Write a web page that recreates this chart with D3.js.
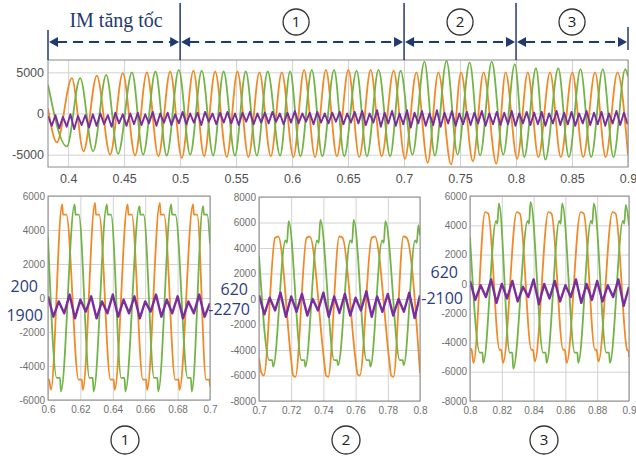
<!DOCTYPE html>
<html>
<head>
<meta charset="utf-8">
<script src="https://cdn.jsdelivr.net/npm/d3@7"></script>
<style>
  body { margin: 0; background: #fff; }
  svg { display: block; }
</style>
</head>
<body>
<svg width="636" height="457"></svg>
<script>
// ---------- data ----------
const stageBounds = [0.382, 0.5, 0.7, 0.8, 0.9];
const stageLabels = ["IM tăng tốc", "1", "2", "3"];
const zoomLabels = ["1", "2", "3"];
const levelLabels = [["200", "1900"], ["620", "-2270"], ["620", "-2100"]];

const topXTicks = [0.4, 0.45, 0.5, 0.55, 0.6, 0.65, 0.7, 0.75, 0.8, 0.85, 0.9];
const topYTicks = [-5000, 0, 5000];
const zoomXTicks = [
  [0.6, 0.62, 0.64, 0.66, 0.68, 0.7],
  [0.7, 0.72, 0.74, 0.76, 0.78, 0.8],
  [0.8, 0.82, 0.84, 0.86, 0.88, 0.9]
];
const zoomYTicks = [
  [-6000, -4000, -2000, 0, 2000, 4000, 6000],
  [-8000, -6000, -4000, -2000, 0, 2000, 4000, 6000, 8000],
  [-8000, -6000, -4000, -2000, 0, 2000, 4000, 6000]
];
const topDomain = { x: [0.382, 0.9], y: [-6500, 6500] };
const zoomDomains = [
  { x: [0.6, 0.7], y: [-6000, 6000] },
  { x: [0.7, 0.8], y: [-8000, 8000] },
  { x: [0.8, 0.9], y: [-8000, 6000] }
];

// phase currents, turning points [time s, value]
const orangeTop = [
  [0.382, 600], [0.3899, -3500], [0.4033, 4300], [0.4137, -4600], [0.4256, 4600], [0.4375, -5000],
  [0.4488, 4900], [0.4598, -5100], [0.4703, 5000], [0.4806, -5200], [0.4911, 5100], [0.5015, -5400],
  [0.5119, 5200], [0.5214, -5200], [0.5313, 5100], [0.5417, -5300], [0.5512, 5100], [0.561, -5300],
  [0.5708, 5000], [0.581, -5200], [0.5908, 5000], [0.6012, -5300], [0.6107, 5300], [0.6205, -5300],
  [0.6302, 5300], [0.640, -5200], [0.6503, 5300], [0.660, -5300], [0.6702, 5300], [0.680, -5200],
  [0.6907, 5200], [0.7008, -5500], [0.711, 5000], [0.7211, -6000], [0.7306, 5000], [0.742, -6200],
  [0.7509, 5000], [0.7615, -5800], [0.771, 5000], [0.7824, -6100], [0.7907, 5000], [0.801, -5500],
  [0.8105, 5000], [0.820, -5300], [0.8304, 5000], [0.840, -5300], [0.8503, 5000], [0.860, -5300],
  [0.8706, 5000], [0.880, -5300], [0.8906, 5000], [0.900, -5000]
];
const greenTop = [
  [0.382, 3500], [0.3988, -4000], [0.4107, 4300], [0.4223, -4600], [0.434, 4700], [0.4446, -4900],
  [0.457, 5000], [0.467, -5000], [0.478, 5100], [0.488, -5100], [0.4988, 5300], [0.509, -5000],
  [0.5193, 5200], [0.5295, -5100], [0.5388, 5100], [0.549, -5100], [0.5586, 5100], [0.5685, -5100],
  [0.5782, 5100], [0.5893, -5100], [0.5982, 5100], [0.6075, -5200], [0.6176, 5300], [0.627, -5200],
  [0.6375, 5300], [0.6466, -5200], [0.6576, 5200], [0.6669, -5200], [0.6772, 5300], [0.6876, -5200],
  [0.6969, 5200], [0.7075, -5000], [0.7182, 6300], [0.7275, -5100], [0.7379, 6400], [0.7478, -5000],
  [0.7586, 6200], [0.7679, -5100], [0.7783, 6300], [0.7886, -5000], [0.7989, 6000], [0.8074, -5300],
  [0.8178, 5500], [0.8262, -5600], [0.8377, 5500], [0.8472, -5300], [0.8576, 5400], [0.8671, -5300],
  [0.8775, 5400], [0.887, -5300], [0.8975, 5400], [0.9, 4500]
];
// third current (ripple), sampled every half ripple period
const purpleTopStart = 0.382;
const purpleTopStep = 0.00334;
const purpleTop = [
  -300, -1500, -200, -1800, -400, -1600, -100, -1900, -300, -1400, -200, -1700,
  -100, -1500, 0, -1300, -200, -1600, 100, -1200, -100, -1500, 0, -1300,
  100, -1400, -100, -1200, 200, -1500, 0, -1100, 100, -1400, -100, -1200,
  200, -1300, 0, -1100, 100, -1400, 200, -1000, 0, -1300, 100, -1100,
  200, -1200, 0, -1400, 100, -1000, 200, -1300, 0, -1100, 100, -1200,
  200, -1000, 0, -1300, 100, -1100, 300, -1200, 0, -1000, 100, -1300,
  200, -1100, 0, -1200, 100, -1000, 200, -1300, 0, -1100, 200, -1200,
  300, -1400, 0, -1100, 400, -1600, 100, -1200, 300, -1500, 0, -1300,
  400, -1700, 100, -1200, 300, -1500, 0, -1400, 400, -1600, 100, -1200,
  300, -1500, 0, -1300, 200, -1400, 100, -1200, 300, -1500, 0, -1300,
  200, -1400, 100, -1300, 300, -1500, 0, -1200, 200, -1400, 100, -1300,
  200, -1500, 0, -1200, 300, -1400, 100, -1300, 200, -1500, 0, -1200,
  300, -1400, 100, -1300, 200, -1500, 0, -1200, 300, -1400, 100, -1300
];

// zoom windows: each peak / trough has its spike and flat shoulder
const orangeZoom = [
  [
    [0.6000, -4800], [0.6006, -4800], [0.6018, -5400],
    [0.6087, 5500], [0.6093, 4900], [0.6113, 4900],
    [0.6189, -4800], [0.6209, -4800], [0.6215, -5400],
    [0.6290, 5600], [0.6296, 4900], [0.6316, 4900],
    [0.6386, -4800], [0.6406, -4800], [0.6412, -5400],
    [0.6491, 5500], [0.6497, 4900], [0.6517, 4900],
    [0.6586, -4800], [0.6606, -4800], [0.6612, -5400],
    [0.6690, 5600], [0.6696, 4900], [0.6716, 4900],
    [0.6786, -4800], [0.6806, -4800], [0.6812, -5400],
    [0.6895, 5500], [0.6901, 4900], [0.6921, 4900],
    [0.6976, -4800], [0.6996, -4800], [0.7000, -5200]
  ],
  [
    [0.7000, -4600], [0.7015, -5800], [0.7030, -6000],
    [0.7100, 4800], [0.7120, 4900],
    [0.7200, -4800], [0.7212, -6000], [0.7226, -6100],
    [0.7296, 4800], [0.7316, 4900],
    [0.7404, -4800], [0.7416, -6000], [0.7430, -6100],
    [0.7499, 4900], [0.7519, 4800],
    [0.7600, -4800], [0.7612, -5900], [0.7626, -6000],
    [0.7700, 4800], [0.7720, 4900],
    [0.7809, -4800], [0.7821, -6000], [0.7835, -6100],
    [0.7897, 4900], [0.7917, 4800],
    [0.8000, -5800]
  ],
  [
    [0.8000, -4400], [0.8010, -4500], [0.8022, -5400],
    [0.8095, 4900], [0.8115, 4800],
    [0.8186, -4500], [0.8196, -4500], [0.8208, -5400],
    [0.8294, 4900], [0.8314, 4800],
    [0.8386, -4500], [0.8396, -4500], [0.8408, -5300],
    [0.8493, 4900], [0.8513, 4800],
    [0.8586, -4500], [0.8596, -4500], [0.8608, -5400],
    [0.8696, 4900], [0.8716, 4800],
    [0.8786, -4500], [0.8796, -4500], [0.8808, -5300],
    [0.8896, 4900], [0.8916, 4800],
    [0.8988, -4500], [0.8998, -4600], [0.9000, -5000]
  ]
];
const greenZoom = [
  [
    [0.6000, 3600],
    [0.6054, -4700], [0.6074, -4700], [0.6080, -5500],
    [0.6164, 5500], [0.6170, 4900], [0.6190, 4900],
    [0.6256, -4700], [0.6276, -4700], [0.6282, -5500],
    [0.6363, 5500], [0.6369, 4900], [0.6389, 4900],
    [0.6452, -4700], [0.6472, -4700], [0.6478, -5500],
    [0.6564, 5400], [0.6570, 4900], [0.6590, 4900],
    [0.6655, -4700], [0.6675, -4700], [0.6681, -5500],
    [0.6760, 5500], [0.6766, 4900], [0.6786, 4900],
    [0.6862, -4700], [0.6882, -4700], [0.6888, -5500],
    [0.6957, 5400], [0.6963, 4900], [0.6983, 4900],
    [0.7000, 3200]
  ],
  [
    [0.7000, 3400],
    [0.7064, -4800], [0.7082, -4800], [0.7088, -5300],
    [0.7164, 4600], [0.7174, 4400], [0.7184, 6100],
    [0.7264, -4800], [0.7282, -4800], [0.7288, -5300],
    [0.7361, 4600], [0.7371, 4400], [0.7381, 6200],
    [0.7467, -4800], [0.7485, -4800], [0.7491, -5200],
    [0.7568, 4600], [0.7578, 4400], [0.7588, 6200],
    [0.7668, -4800], [0.7686, -4800], [0.7692, -5300],
    [0.7765, 4600], [0.7775, 4400], [0.7785, 6100],
    [0.7875, -4800], [0.7893, -4800], [0.7899, -5200],
    [0.7970, 4600], [0.7980, 4400], [0.7990, 5800],
    [0.8000, 5000]
  ],
  [
    [0.8000, 3200],
    [0.8062, -4700], [0.8078, -4700], [0.8084, -5400],
    [0.8164, 4300], [0.8172, 4100], [0.8182, 5500],
    [0.8250, -4700], [0.8266, -4700], [0.8272, -5800],
    [0.8363, 4300], [0.8371, 4100], [0.8381, 5600],
    [0.8460, -4700], [0.8476, -4700], [0.8482, -5400],
    [0.8562, 4300], [0.8570, 4100], [0.8580, 5500],
    [0.8659, -4700], [0.8675, -4700], [0.8681, -5400],
    [0.8761, 4300], [0.8769, 4100], [0.8779, 5500],
    [0.8858, -4700], [0.8874, -4700], [0.8880, -5400],
    [0.8962, 4300], [0.8970, 4100], [0.8980, 5400],
    [0.9000, 4000]
  ]
];
const purpleZoomStep = 0.1 / 30;
const purpleZoom = [
  [100, -1100, -200, -900, 200, -1200, -100, -800, 100, -1200, -200, -900, 200, -1100, -100, -900,
   100, -1200, -200, -800, 200, -1100, -100, -900, 100, -1200, -200, -900, 200, -1100, -300],
  [300, -1200, 100, -900, 500, -1400, 200, -1000, 400, -1300, 0, -900, 500, -1400, 200, -1100,
   400, -1300, 100, -900, 600, -1400, 200, -1000, 400, -1300, 0, -1000, 500, -1500, 300],
  [200, -1100, -100, -900, 300, -1300, 0, -1000, 200, -1200, -200, -900, 300, -1400, 0, -1000,
   200, -1200, -100, -900, 300, -1300, 0, -1100, 200, -1200, -100, -900, 300, -1500, -200]
];

// ---------- layout / style ----------
const colors = {
  orange: "#f08a26", green: "#73b446", purple: "#7a2d9c",
  navy: "#1f3a70", grid: "#d2d2d2", frame: "#8a8a8a", blue: "#2b3d7b"
};
const layout = {
  top: { x: 48, y: 60, w: 580, h: 107, font: 12.5, labelColor: "#505050", padX: 7, padY: 4 },
  zooms: [
    { x: 48, y: 196, w: 162, h: 204, circleX: 125 },
    { x: 259, y: 197, w: 161, h: 204, circleX: 346 },
    { x: 470, y: 196, w: 159, h: 205, circleX: 544 }
  ],
  zoomFont: 10,
  circleY: 440,
  arrowY: 42,
  levelFont: 16,
  levelPos: [
    [[38, 292], [43, 321]],
    [[248, 295], [250, 315]],
    [[458, 278], [463, 304]]
  ]
};

const svg = d3.select("svg");
let clipId = 0;

const drawPanel = (box, domain, xTicks, yTicks, series, opts) => {
  const g = svg.append("g");
  const x = d3.scaleLinear().domain(domain.x).range([box.x, box.x + box.w]);
  const y = d3.scaleLinear().domain(domain.y).range([box.y + box.h, box.y]);

  // grid
  g.append("g")
    .attr("transform", `translate(0,${box.y + box.h})`)
    .call(d3.axisBottom(x).tickValues(xTicks).tickSize(-box.h).tickFormat(""))
    .call((s) => s.select(".domain").remove())
    .call((s) => s.selectAll("line").attr("stroke", colors.grid));
  g.append("g")
    .attr("transform", `translate(${box.x},0)`)
    .call(d3.axisLeft(y).tickValues(yTicks).tickSize(-box.w).tickFormat(""))
    .call((s) => s.select(".domain").remove())
    .call((s) => s.selectAll("line").attr("stroke", colors.grid));

  // traces
  const id = "clip" + clipId++;
  g.append("clipPath").attr("id", id)
    .append("rect").attr("x", box.x).attr("y", box.y).attr("width", box.w).attr("height", box.h);
  const traces = g.append("g").attr("clip-path", `url(#${id})`);
  series.forEach((s) => {
    const line = d3.line().x((d) => x(d[0])).y((d) => y(d[1]))
      .curve(s.sharp ? d3.curveLinear : d3.curveMonotoneX);
    traces.append("path")
      .datum(s.data)
      .attr("fill", "none")
      .attr("stroke", s.color)
      .attr("stroke-width", s.width)
      .attr("stroke-linejoin", "round")
      .attr("d", line);
  });

  // frame
  g.append("rect")
    .attr("x", box.x).attr("y", box.y).attr("width", box.w).attr("height", box.h)
    .attr("fill", "none").attr("stroke", colors.frame).attr("stroke-width", 1);

  // tick labels
  const styleText = (s) => {
    s.select(".domain").remove();
    s.selectAll("text")
      .attr("fill", opts.labelColor)
      .style("font-family", "'Liberation Sans', Arial, sans-serif")
      .style("font-size", opts.font + "px");
  };
  g.append("g")
    .attr("transform", `translate(0,${box.y + box.h})`)
    .call(d3.axisBottom(x).tickValues(xTicks).tickSize(0).tickPadding(opts.padX).tickFormat((d) => String(d)))
    .call(styleText);
  g.append("g")
    .attr("transform", `translate(${box.x},0)`)
    .call(d3.axisLeft(y).tickValues(yTicks).tickSize(0).tickPadding(opts.padY).tickFormat((d) => String(d)))
    .call(styleText);

  return { x, y };
};

const circled = (cx, cy, label, r) => {
  svg.append("circle").attr("cx", cx).attr("cy", cy).attr("r", r)
    .attr("fill", "#fff").attr("stroke", "#333").attr("stroke-width", 1.3);
  svg.append("text").attr("x", cx).attr("y", cy).attr("dy", "0.36em")
    .attr("text-anchor", "middle")
    .style("font-family", "'Open Sans', sans-serif").style("font-size", "15px")
    .attr("fill", "#222").text(label);
};

// ---------- top overview ----------
const overview = drawPanel(layout.top, topDomain, topXTicks, topYTicks, [
  { data: orangeTop, color: colors.orange, width: 1.8 },
  { data: greenTop, color: colors.green, width: 1.8 },
  { data: purpleTop.map((v, i) => [purpleTopStart + i * purpleTopStep, v]), color: colors.purple, width: 1.9, sharp: true }
], layout.top);

// stage markers above the overview
const ann = svg.append("g");
const ay = layout.arrowY;
stageBounds.forEach((t, i) => {
  const xv = overview.x(t);
  const first = i === 0, last = i === stageBounds.length - 1;
  ann.append("line")
    .attr("x1", xv).attr("x2", xv)
    .attr("y1", first ? 30 : last ? 27 : 3)
    .attr("y2", last ? 50 : layout.top.y)
    .attr("stroke", colors.navy).attr("stroke-width", 1.5);
});
stageLabels.forEach((label, i) => {
  const x0 = overview.x(stageBounds[i]), x1 = overview.x(stageBounds[i + 1]);
  const head = 9;
  ann.append("line")
    .attr("x1", x0 + head).attr("x2", x1 - head).attr("y1", ay).attr("y2", ay)
    .attr("stroke", colors.navy).attr("stroke-width", 2).attr("stroke-dasharray", "10,6");
  ann.append("path")
    .attr("d", `M${x0 + 1},${ay}L${x0 + head + 1},${ay - 5}L${x0 + head + 1},${ay + 5}Z`)
    .attr("fill", colors.navy);
  ann.append("path")
    .attr("d", `M${x1 - 1},${ay}L${x1 - head - 1},${ay - 5}L${x1 - head - 1},${ay + 5}Z`)
    .attr("fill", colors.navy);
  const mid = (x0 + x1) / 2;
  if (i === 0) {
    ann.append("text").attr("x", mid + 2).attr("y", 27).attr("text-anchor", "middle")
      .style("font-family", "'Liberation Serif', 'DejaVu Serif', serif").style("font-size", "20px")
      .attr("fill", colors.navy).text(label);
  } else {
    circled(mid + (i === 1 ? 4 : 0), 22, label, 13);
  }
});

// ---------- zoomed windows ----------
layout.zooms.forEach((box, i) => {
  drawPanel(box, zoomDomains[i], zoomXTicks[i], zoomYTicks[i], [
    { data: orangeZoom[i], color: colors.orange, width: 1.8 },
    { data: greenZoom[i], color: colors.green, width: 1.8 },
    { data: purpleZoom[i].map((v, k) => [zoomDomains[i].x[0] + k * purpleZoomStep, v]), color: colors.purple, width: 2.4, sharp: true }
  ], { font: layout.zoomFont, labelColor: "#707070", padX: 6, padY: 3 });
  circled(box.circleX, layout.circleY, zoomLabels[i], 14);
  levelLabels[i].forEach((txt, k) => {
    const [lx, ly] = layout.levelPos[i][k];
    svg.append("text").attr("x", lx).attr("y", ly).attr("text-anchor", "end")
      .style("font-family", "'Open Sans', sans-serif").style("font-size", layout.levelFont + "px")
      .attr("fill", colors.blue).text(txt);
  });
});
</script>
</body>
</html>
